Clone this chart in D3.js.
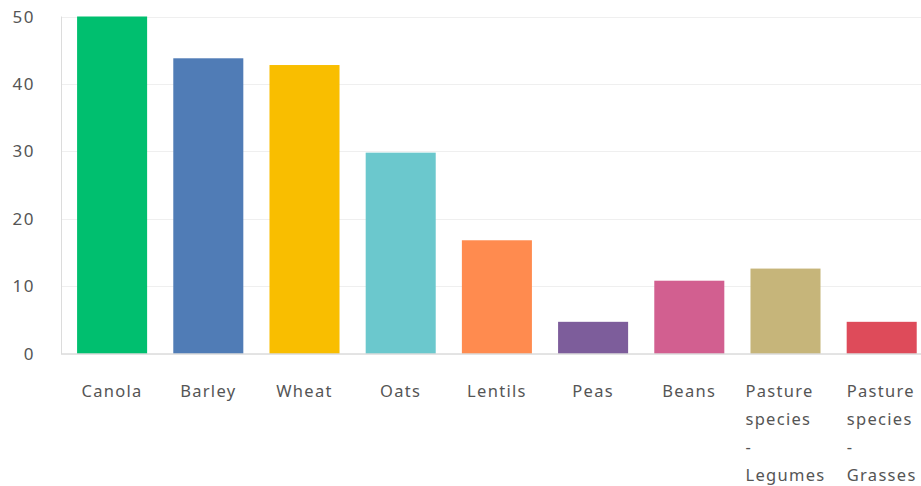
<!DOCTYPE html>
<html>
<head>
<meta charset="utf-8">
<script src="https://cdn.jsdelivr.net/npm/d3@7"></script>
<style>
  html, body { margin: 0; padding: 0; background: #fff; }
  svg { display: block; }
  text { font-family: "Noto Sans", "Open Sans", sans-serif; fill: #555; }
</style>
</head>
<body>
<svg id="chart" width="921" height="486"></svg>
<script>
const categories = ["Canola", "Barley", "Wheat", "Oats", "Lentils", "Peas", "Beans", "Pasture species - Legumes", "Pasture species - Grasses"];
const values = [50, 43.8, 42.8, 29.8, 16.8, 4.7, 10.8, 12.6, 4.7];
const colors = ["#00BF6F", "#507CB6", "#F9BE00", "#6BC8CD", "#FF8B4F", "#7D5D9B", "#D25F90", "#C6B57A", "#DE4B5A"];
const yTicks = [0, 10, 20, 30, 40, 50];

const svg = d3.select("#chart");
const W = 921;
const mLeft = 61, mTop = 16.5, mBottom = 353.5;

const x = d3.scaleBand().domain(categories).range([64, 64 + 9 * 96.2]).paddingInner(0.272).paddingOuter(0.136);
const y = d3.scaleLinear().domain([0, 50]).range([mBottom, mTop]);

// gridlines
svg.append("g").selectAll("line").data(yTicks.filter(d => d > 0)).join("line")
  .attr("x1", mLeft).attr("x2", W)
  .attr("y1", d => Math.round(y(d)) + 0.5).attr("y2", d => Math.round(y(d)) + 0.5)
  .attr("stroke", "#efefef").attr("stroke-width", 1);

// y axis line
svg.append("line").attr("x1", mLeft + 0.5).attr("x2", mLeft + 0.5)
  .attr("y1", mTop).attr("y2", mBottom).attr("stroke", "#dcdcdc");

// y tick labels
svg.append("g").selectAll("text").data(yTicks).join("text")
  .attr("x", 35).attr("y", d => y(d)).attr("dy", "0.36em")
  .attr("text-anchor", "end").style("font-size", "17px").style("letter-spacing", "1.5px")
  .text(d => d);

// bars
svg.append("g").selectAll("rect").data(values).join("rect")
  .attr("x", (d, i) => x(categories[i]))
  .attr("width", x.bandwidth())
  .attr("y", d => y(d))
  .attr("height", d => mBottom - y(d))
  .attr("fill", (d, i) => colors[i]);

// baseline
svg.append("line").attr("x1", mLeft).attr("x2", W)
  .attr("y1", mBottom + 0.5).attr("y2", mBottom + 0.5).attr("stroke", "#c8c8c8");

// x labels
const fs = "16.5px", ls = "1.3px";
const maxW = x.bandwidth();
const lineH = 28;
categories.forEach((c, i) => {
  const cx = x(c) + x.bandwidth() / 2;
  const t = svg.append("text").attr("y", 397).style("font-size", fs).style("letter-spacing", ls);
  const words = c.split(" ");
  let lines = [], cur = "";
  const probe = svg.append("text").style("font-size", fs).style("letter-spacing", ls);
  words.forEach(w => {
    const test = cur ? cur + " " + w : w;
    probe.text(test);
    if (probe.node().getComputedTextLength() > maxW && cur) { lines.push(cur); cur = w; }
    else cur = test;
  });
  lines.push(cur);
  let widths = lines.map(l => { probe.text(l); return probe.node().getComputedTextLength(); });
  probe.remove();
  const bw = d3.max(widths);
  const x0 = cx - bw / 2;
  lines.forEach((l, j) => {
    t.append("tspan").attr("x", lines.length > 1 ? x0 : cx - widths[j] / 2)
      .attr("y", 397 + j * lineH).text(l);
  });
});
</script>
</body>
</html>
